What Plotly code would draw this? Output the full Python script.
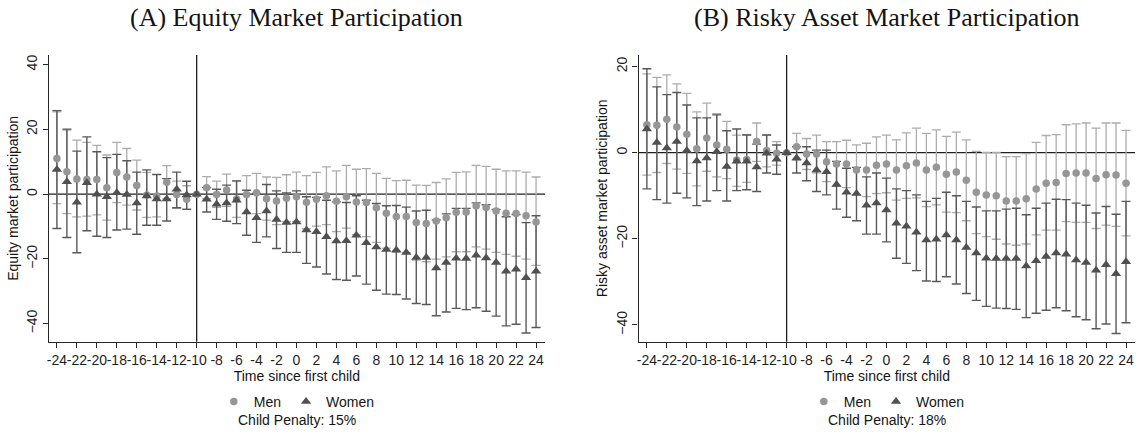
import plotly.graph_objects as go

# Event time relative to first birth
event_time = list(range(-24, 25))

# ---- Panel A: equity market participation (percentage points) ----
eq_men = [11.0, 6.9, 4.7, 4.5, 4.5, 2.0, 6.7, 5.3, 2.7, -0.3, -0.6, 3.7, -0.1, -1.6,
          0.0,
          2.0, -0.1, 1.3, -1.5, -0.1, 0.4, -1.4, -2.1, -1.3, -0.8, -2.5, -1.6, -0.5, -2.2,
          -0.8, -2.4, -2.6, -4.2, -5.9, -6.9, -6.9, -8.8, -9.1, -8.3, -7.3, -5.6, -5.5,
          -3.7, -4.1, -5.2, -5.9, -6.0, -6.7, -8.6]
eq_men_lo = [-2.9, -6.0, -7.0, -6.8, -6.4, -8.0, -2.6, -3.4, -4.9, -7.2, -7.0, -1.4, -4.4, -4.6,
             None,
             -1.4, -4.1, -3.8, -7.2, -5.9, -6.0, -8.0, -9.4, -8.6, -8.4, -10.7, -9.9, -9.4,
             -11.6, -10.5, -12.5, -13.1, -14.9, -16.7, -18.0, -18.1, -20.4, -20.9, -20.1,
             -19.4, -17.8, -17.8, -16.3, -17.0, -18.0, -18.6, -19.2, -20.1, -22.0]
eq_men_hi = [25.4, 19.8, 16.7, 16.0, 15.1, 12.1, 16.0, 14.1, 10.5, 6.7, 6.0, 8.8, 4.0, 2.6,
             None,
             5.4, 4.0, 6.2, 4.0, 5.7, 6.4, 5.3, 5.2, 6.0, 6.8, 5.7, 6.7, 8.4, 7.2, 8.9, 7.7,
             7.9, 6.4, 4.9, 4.2, 4.3, 2.8, 2.7, 3.6, 4.7, 6.7, 6.9, 8.9, 8.6, 7.7, 7.2, 7.2,
             6.8, 5.3]
eq_women = [7.6, 3.8, -2.5, 3.5, 0.0, -0.8, 0.4, -0.1, -2.7, -0.6, -1.5, -1.5, 1.5, -0.3,
            0.0,
            -1.6, -3.1, -2.7, -1.9, -5.5, -7.3, -5.2, -7.8, -8.8, -8.6, -11.1, -11.6, -13.2,
            -14.5, -14.4, -12.7, -15.0, -16.3, -17.1, -17.3, -18.0, -19.6, -19.6, -22.8,
            -21.1, -19.8, -19.9, -18.9, -19.7, -21.1, -23.8, -23.2, -25.8, -23.8]
eq_women_lo = [-10.6, -13.4, -18.1, -11.3, -13.0, -13.4, -11.1, -10.8, -12.4, -9.6, -9.6, -8.3,
               -4.2, -4.7,
               None,
               -5.5, -7.8, -8.4, -9.1, -12.7, -14.9, -13.2, -16.8, -18.0, -18.0, -21.4, -22.5,
               -24.7, -26.4, -26.6, -25.3, -27.8, -29.7, -30.9, -31.0, -32.4, -33.8, -34.1,
               -37.6, -36.4, -35.3, -35.7, -35.1, -36.2, -37.7, -40.7, -40.2, -42.9, -41.2]
eq_women_hi = [25.8, 20.1, 13.3, 17.7, 13.1, 11.3, 12.3, 10.3, 6.8, 7.5, 6.1, 4.8, 6.8, 4.0,
               None,
               2.0, 1.5, 2.8, 4.1, 1.2, 0.2, 3.0, 1.0, 0.4, 1.0, -0.8, -1.0, -1.9, -2.4, -2.6,
               -0.5, -1.9, -2.9, -3.6, -3.5, -4.0, -5.2, -5.0, -8.0, -6.1, -4.4, -4.4, -2.7,
               -3.3, -4.7, -7.0, -6.3, -8.8, -6.7]

# ---- Panel B: risky asset market participation (percentage points) ----
ra_men = [6.5, 6.4, 7.8, 6.0, 4.3, 0.9, 3.4, 1.8, 0.8, -1.7, -1.6, 2.6, 0.5, -0.1,
          0.0,
          1.4, -0.3, -0.3, -2.1, -2.6, -2.6, -4.0, -4.0, -2.9, -2.6, -4.0, -3.0, -2.4, -4.0,
          -3.4, -5.0, -4.5, -6.4, -9.2, -9.8, -10.0, -11.2, -11.2, -10.7, -8.4, -7.1, -6.9,
          -4.8, -4.7, -4.7, -6.0, -5.1, -5.2, -7.1]
ra_men_lo = [-5.2, -4.6, -2.5, -3.8, -4.8, -7.7, -4.3, -5.6, -6.0, -7.8, -6.9, -2.0, -3.3, -2.9,
             None,
             -1.7, -3.9, -4.7, -6.7, -7.8, -8.1, -9.8, -10.2, -9.5, -9.3, -11.0, -10.6, -10.5,
             -12.5, -12.1, -13.8, -13.9, -15.8, -18.8, -19.5, -20.1, -21.2, -21.5, -21.2,
             -19.1, -18.0, -18.0, -16.0, -16.2, -16.2, -17.6, -16.8, -17.1, -19.3]
ra_men_hi = [18.3, 17.5, 18.1, 16.0, 13.8, 9.5, 11.5, 9.1, 7.3, 4.1, 4.2, 6.9, 4.1, 2.6,
             None,
             4.5, 3.3, 4.1, 2.6, 2.6, 2.9, 1.8, 2.2, 3.7, 4.1, 3.0, 4.6, 5.7, 4.5, 5.3, 3.8,
             4.8, 3.0, 0.3, 0.1, 0.1, -0.9, -0.9, -0.2, 2.4, 4.0, 4.2, 6.5, 6.7, 6.9, 5.7,
             6.9, 6.9, 5.2]
ra_women = [5.5, 2.4, 1.1, 2.6, 0.5, -1.9, -1.2, 0.2, -3.2, -2.0, -2.0, -3.3, -0.1, -1.5,
            0.0,
            -1.2, -2.4, -4.0, -4.4, -7.4, -9.2, -9.5, -12.2, -11.7, -13.3, -16.4, -17.1,
            -18.5, -20.3, -20.1, -19.1, -20.3, -22.0, -23.3, -24.5, -24.6, -24.6, -24.6,
            -26.3, -25.1, -24.1, -23.3, -23.6, -24.9, -25.5, -27.3, -26.0, -28.1, -25.3]
ra_women_lo = [-8.4, -10.9, -11.7, -9.4, -10.5, -12.3, -11.2, -8.8, -11.2, -8.8, -8.6, -9.0,
               -4.7, -5.0,
               None,
               -4.7, -6.5, -9.0, -9.8, -13.1, -15.0, -15.8, -18.9, -18.9, -20.7, -24.5, -25.7,
               -27.4, -29.8, -29.9, -28.8, -30.5, -32.7, -34.3, -35.7, -36.1, -36.2, -36.4,
               -38.3, -37.3, -36.6, -36.0, -36.7, -38.1, -38.8, -40.9, -39.8, -42.0, -39.5]
ra_women_hi = [19.5, 15.3, 13.5, 14.0, 11.1, 8.1, 8.1, 8.8, 5.1, 5.5, 4.1, 2.0, 4.1, 1.8,
               None,
               1.4, 1.4, 0.6, 0.6, -2.0, -3.6, -3.4, -5.6, -4.7, -5.9, -8.4, -8.8, -9.8, -11.3,
               -10.6, -9.2, -10.0, -11.3, -12.6, -13.5, -13.5, -13.1, -12.9, -14.4, -12.9,
               -11.7, -10.8, -10.9, -11.7, -12.2, -14.0, -12.5, -14.3, -11.3]

panel_titles = ["(A) Equity Market Participation", "(B) Risky Asset Market Participation"]
y_titles = ["Equity market participation", "Risky asset market participation"]
penalty_notes = ["Child Penalty: 15%", "Child Penalty: 18%"]
y_ticks = [[-40, -20, 0, 20, 40], [-40, -20, 0, 20]]
y_ranges = [[-45.6, 43.0], [-43.9, 22.7]]
x_ticks = list(range(-24, 25, 2))
x_range = [-24.83, 24.9]

MEN_MARK = "rgb(150,150,150)"
MEN_BAR = "rgb(172,172,172)"
WOMEN_MARK = "rgb(80,80,80)"
WOMEN_BAR = "rgb(88,88,88)"
TEXT_FONT = "Liberation Sans, Arial, sans-serif"

W, H = 1140, 434
x_domains = [[46.7 / W, 544 / W], [637.7 / W, 1135 / W]]
y_domain = [1 - 341.7 / H, 1 - 55 / H]


def margins(est, lo, hi):
    up = [None if h is None else h - e for e, h in zip(est, hi)]
    down = [None if l is None else e - l for e, l in zip(est, lo)]
    return up, down


fig = go.Figure()

panels = [
    (eq_men, eq_men_lo, eq_men_hi, eq_women, eq_women_lo, eq_women_hi),
    (ra_men, ra_men_lo, ra_men_hi, ra_women, ra_women_lo, ra_women_hi),
]

for i, (m, mlo, mhi, w, wlo, whi) in enumerate(panels):
    xa = "x" if i == 0 else "x2"
    ya = "y" if i == 0 else "y2"
    leg = "legend" if i == 0 else "legend2"
    mu, md = margins(m, mlo, mhi)
    wu, wd = margins(w, wlo, whi)

    # confidence intervals first, so that the point markers sit above every bar
    fig.add_trace(go.Scatter(
        x=event_time, y=m, mode="markers", xaxis=xa, yaxis=ya, showlegend=False,
        marker=dict(size=1, opacity=0), hoverinfo="skip",
        error_y=dict(type="data", symmetric=False, array=mu, arrayminus=md,
                     color=MEN_BAR, thickness=1.3, width=4.5)))
    fig.add_trace(go.Scatter(
        x=event_time, y=w, mode="markers", xaxis=xa, yaxis=ya, showlegend=False,
        marker=dict(size=1, opacity=0), hoverinfo="skip",
        error_y=dict(type="data", symmetric=False, array=wu, arrayminus=wd,
                     color=WOMEN_BAR, thickness=1.4, width=4.5)))
    fig.add_trace(go.Scatter(
        x=event_time, y=m, mode="markers", name="Men", xaxis=xa, yaxis=ya, legend=leg,
        marker=dict(symbol="circle", size=7.5, color=MEN_MARK, line=dict(width=0))))
    fig.add_trace(go.Scatter(
        x=event_time, y=w, mode="markers", name="Women", xaxis=xa, yaxis=ya, legend=leg,
        marker=dict(symbol="triangle-up", size=9, color=WOMEN_MARK, line=dict(width=0))))

axis_common = dict(
    showgrid=False, zeroline=False, showline=True, linecolor="rgb(40,40,40)", linewidth=1.2,
    ticks="outside", ticklen=5, tickwidth=1.2, tickcolor="rgb(40,40,40)",
    tickfont=dict(family=TEXT_FONT, size=14, color="rgb(30,30,30)"),
)

layout = dict(
    width=W, height=H, margin=dict(l=0, r=0, t=0, b=0),
    paper_bgcolor="white", plot_bgcolor="white",
    font=dict(family=TEXT_FONT, color="rgb(20,20,20)"),
)

for i in range(2):
    sx = "" if i == 0 else "2"
    layout["xaxis" + sx] = dict(
        axis_common, domain=x_domains[i], range=x_range, tickmode="array",
        tickvals=x_ticks, ticktext=[str(t) for t in x_ticks], anchor="y" + sx,
        tickangle=0, ticklabelstandoff=0,
        title=dict(text="Time since first child", standoff=0,
                   font=dict(family=TEXT_FONT, size=14, color="rgb(20,20,20)")))
    layout["yaxis" + sx] = dict(
        axis_common, domain=y_domain, range=y_ranges[i], tickmode="array",
        tickvals=y_ticks[i], tickangle=-90, anchor="x" + sx,
        title=dict(text=y_titles[i], standoff=2,
                   font=dict(family=TEXT_FONT, size=14, color="rgb(20,20,20)")))

fig.update_layout(**layout)

for i in range(2):
    cx = (x_domains[i][0] + x_domains[i][1]) / 2
    legkey = "legend" if i == 0 else "legend2"
    fig.update_layout({legkey: dict(
        orientation="h", x=cx, xanchor="center", y=1 - 402 / H, yanchor="middle",
        font=dict(family=TEXT_FONT, size=14, color="rgb(20,20,20)"),
        bgcolor="rgba(0,0,0,0)", itemwidth=30, tracegroupgap=0)})
    fig.add_annotation(text=panel_titles[i], x=cx, y=1 - 17 / H, xref="paper", yref="paper",
                       showarrow=False, xanchor="center", yanchor="middle",
                       font=dict(family="Liberation Serif, Times New Roman, serif", size=26,
                                 color="rgb(20,20,20)"))
    fig.add_annotation(text=penalty_notes[i], x=cx, y=1 - 420 / H, xref="paper", yref="paper",
                       showarrow=False, xanchor="center", yanchor="middle",
                       font=dict(family=TEXT_FONT, size=14, color="rgb(20,20,20)"))
    xr = "x" if i == 0 else "x2"
    yr = "y" if i == 0 else "y2"
    # zero reference line and the omitted period (t = -10)
    fig.add_shape(type="line", xref=xr + " domain", yref=yr, x0=0, x1=1, y0=0, y1=0,
                  line=dict(color="rgb(30,30,30)", width=1.3), layer="below")
    fig.add_shape(type="line", xref=xr, yref=yr + " domain", x0=-10, x1=-10, y0=0, y1=1,
                  line=dict(color="rgb(30,30,30)", width=1.3), layer="below")

fig.write_html("out.html")
